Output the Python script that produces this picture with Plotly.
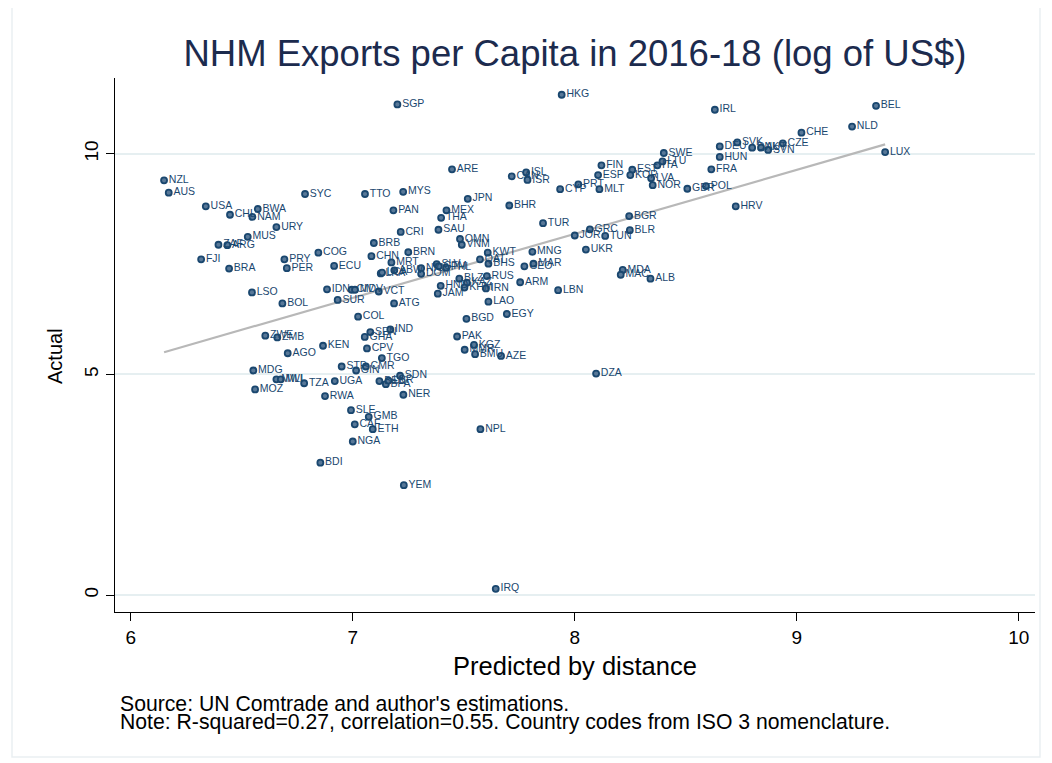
import numpy as np
import plotly.graph_objects as go

# ISO3 codes, predicted (log) exports by distance, actual (log) exports per capita
codes = [
    "SGP", "NZL", "AUS", "USA", "CHL", "BWA", "NAM", "URY", "MUS", "ZAF",
    "ARG", "SYC", "TTO", "MYS", "PAN", "CRI", "BRB", "COG", "CHN", "PRY",
    "FJI", "BRA", "PER", "ECU", "MRT", "LKA", "LCA", "ABW", "NIC", "DOM",
    "SLV", "GTM", "PHL", "BRN", "KWT", "VNM", "OMN", "QAT", "BHS", "MNG",
    "GEO", "MAR", "UKR", "MDA", "MAC", "ALB", "BLZ", "RUS", "HND", "KAZ",
    "KHM", "IRN", "ARM", "JAM", "LBN", "LAO", "EGY", "BGD", "PAK", "KGZ",
    "MMR", "BMU", "AZE", "DZA", "SDN", "NER", "HKG", "ARE", "CAN", "ISL",
    "ISR", "CYP", "PRT", "MLT", "FIN", "ESP", "EST", "KOR", "ITA", "LTU",
    "SWE", "LVA", "NOR", "GBR", "JPN", "MEX", "THA", "SAU", "BHR", "TUR",
    "BGR", "GRC", "JOR", "TUN", "BLR", "IRL", "BEL", "NLD", "CHE", "SVK",
    "DEU", "DNK", "AUT", "SVN", "CZE", "HUN", "FRA", "POL", "HRV", "LUX",
    "LSO", "BOL", "IDN", "CIV", "MDV", "VCT", "SUR", "ATG", "COL", "ZWE",
    "ZMB", "AGO", "KEN", "SEN", "IND", "GHA", "CPV", "TGO", "STP", "CMR",
    "GIN", "MDG", "MWI", "MLI", "TZA", "UGA", "MOZ", "RWA", "SLE", "GMB",
    "BEN", "BFA", "LBR", "CAF", "ETH", "NGA", "BDI", "YEM", "NPL", "IRQ",
]
predicted = [
    7.201, 6.150, 6.171, 6.338, 6.447, 6.572, 6.548, 6.656, 6.527, 6.395,
    6.435, 6.785, 7.055, 7.227, 7.183, 7.216, 7.095, 6.845, 7.084, 6.692,
    6.317, 6.443, 6.703, 6.916, 7.174, 7.126, 7.132, 7.187, 7.308, 7.308,
    7.378, 7.387, 7.420, 7.250, 7.608, 7.491, 7.483, 7.573, 7.611, 7.809,
    7.773, 7.814, 8.050, 8.216, 8.207, 8.341, 7.480, 7.604, 7.396, 7.514,
    7.503, 7.600, 7.754, 7.383, 7.925, 7.611, 7.694, 7.512, 7.470, 7.546,
    7.504, 7.551, 7.668, 8.096, 7.213, 7.228, 7.941, 7.447, 7.716, 7.781,
    7.787, 7.934, 8.016, 8.111, 8.120, 8.105, 8.259, 8.250, 8.372, 8.395,
    8.401, 8.344, 8.351, 8.507, 7.518, 7.422, 7.398, 7.386, 7.705, 7.857,
    8.245, 8.068, 8.000, 8.137, 8.248, 8.631, 9.357, 9.249, 9.021, 8.732,
    8.653, 8.799, 8.839, 8.871, 8.937, 8.653, 8.615, 8.591, 8.725, 9.398,
    6.546, 6.683, 6.884, 6.995, 7.010, 7.117, 6.932, 7.186, 7.024, 6.606,
    6.660, 6.707, 6.866, 7.079, 7.169, 7.054, 7.064, 7.131, 6.950, 7.059,
    7.015, 6.552, 6.656, 6.676, 6.781, 6.919, 6.560, 6.875, 6.992, 7.072,
    7.120, 7.149, 7.161, 7.009, 7.090, 7.000, 6.854, 7.230, 7.575, 7.644,
]
actual = [
    11.12, 9.40, 9.12, 8.81, 8.62, 8.75, 8.57, 8.34, 8.12, 7.94,
    7.93, 9.09, 9.09, 9.14, 8.72, 8.23, 7.98, 7.76, 7.68, 7.61,
    7.61, 7.40, 7.41, 7.46, 7.54, 7.29, 7.31, 7.36, 7.41, 7.28,
    7.50, 7.45, 7.42, 7.77, 7.76, 7.94, 8.07, 7.61, 7.51, 7.78,
    7.45, 7.51, 7.83, 7.37, 7.26, 7.17, 7.17, 7.23, 7.01, 7.08,
    6.97, 6.95, 7.09, 6.83, 6.91, 6.65, 6.37, 6.26, 5.86, 5.67,
    5.56, 5.46, 5.42, 5.02, 4.97, 4.54, 11.34, 9.65, 9.49, 9.58,
    9.41, 9.20, 9.31, 9.20, 9.74, 9.52, 9.64, 9.52, 9.74, 9.83,
    10.02, 9.45, 9.29, 9.21, 8.98, 8.72, 8.55, 8.28, 8.83, 8.43,
    8.59, 8.29, 8.15, 8.14, 8.27, 11.00, 11.09, 10.62, 10.48, 10.26,
    10.17, 10.14, 10.14, 10.09, 10.24, 9.93, 9.65, 9.27, 8.81, 10.04,
    6.86, 6.61, 6.93, 6.92, 6.92, 6.88, 6.69, 6.61, 6.31, 5.88,
    5.84, 5.48, 5.65, 5.96, 6.02, 5.85, 5.59, 5.37, 5.18, 5.18,
    5.09, 5.09, 4.89, 4.89, 4.80, 4.85, 4.66, 4.51, 4.19, 4.04,
    4.85, 4.78, 4.86, 3.87, 3.76, 3.48, 3.00, 2.49, 3.76, 0.14,
]

x_ticks = [6, 7, 8, 9, 10]
y_ticks = [0, 5, 10]

navy = "#1a476f"
font = "Liberation Sans, Arial, sans-serif"

slope, intercept = np.polyfit(predicted, actual, 1)
fit_x = np.array([min(predicted), max(predicted)])
fit_y = intercept + slope * fit_x

fig = go.Figure()
fig.add_trace(go.Scatter(
    x=fit_x, y=fit_y, mode="lines",
    line=dict(color="#b8b8b8", width=2.2),
    hoverinfo="skip", showlegend=False,
))
fig.add_trace(go.Scatter(
    x=predicted, y=actual, mode="markers+text",
    text=codes, textposition="middle right",
    textfont=dict(family=font, size=10.5, color=navy),
    marker=dict(size=6, color="#587898", line=dict(color=navy, width=1.8)),
    showlegend=False,
))

# the page body adds an 8px offset, so the figure is 8px smaller than the window
fig.update_layout(
    width=1044, height=755,
    margin=dict(l=107, r=17, t=70, b=151),
    paper_bgcolor="white", plot_bgcolor="white",
    font=dict(family=font, color="black"),
    title=dict(
        text="NHM Exports per Capita in 2016-18 (log of US$)",
        x=0.5, xref="paper", y=0.94, yanchor="middle",
        font=dict(size=36.5, color="#1c2b4e"),
    ),
    xaxis=dict(
        range=[5.929, 10.073], tickvals=x_ticks,
        showgrid=False, zeroline=False,
        showline=True, linecolor="black", linewidth=1.2,
        ticks="outside", ticklen=8, tickcolor="black", tickwidth=1.2,
        tickfont=dict(size=19),
        title=dict(text="Predicted by distance", font=dict(size=25.5), standoff=10),
    ),
    yaxis=dict(
        range=[-0.385, 11.72], tickvals=y_ticks, tickangle=-90,
        showgrid=True, gridcolor="#e6eff1", gridwidth=2, zeroline=False,
        showline=True, linecolor="black", linewidth=1.2,
        ticks="outside", ticklen=8, tickcolor="black", tickwidth=1.2,
        tickfont=dict(size=19),
    ),
    shapes=[dict(
        type="rect", xref="paper", yref="paper",
        x0=(12 - 115) / 920, x1=(1040 - 115) / 920,
        y0=(612 - 757) / 534, y1=(612 - 5) / 534,
        line=dict(color="#eaf0f2", width=1.5), layer="below",
    )],
    annotations=[
        dict(text="Actual", textangle=-90,
             xref="paper", yref="paper", x=(55 - 115) / 920, y=(612 - 356) / 534,
             xanchor="center", yanchor="middle", showarrow=False,
             font=dict(size=20, color="black")),
        dict(text="Source: UN Comtrade and author's estimations.",
             xref="paper", yref="paper", x=(118 - 115) / 920, y=(612 - 703) / 534,
             xanchor="left", yanchor="middle", showarrow=False,
             font=dict(size=21.2, color="black")),
        dict(text="Note: R-squared=0.27, correlation=0.55. Country codes from ISO 3 nomenclature.",
             xref="paper", yref="paper", x=(118 - 115) / 920, y=(612 - 722) / 534,
             xanchor="left", yanchor="middle", showarrow=False,
             font=dict(size=21.2, color="black")),
    ],
)

fig.write_html("out.html")
